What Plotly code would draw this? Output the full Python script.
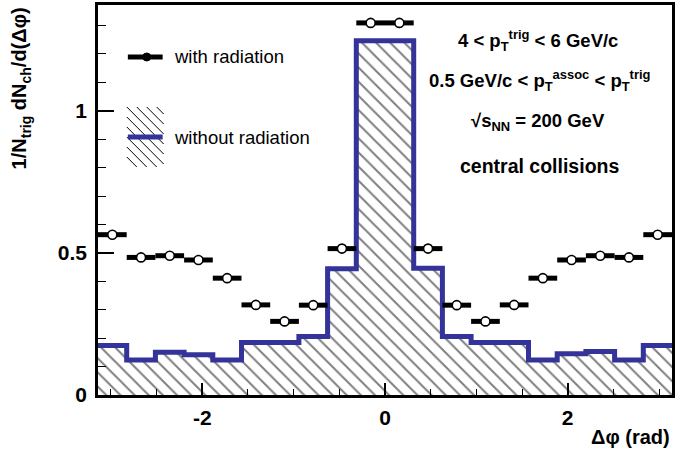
import numpy as np
import plotly.graph_objects as go

# ---------------- data ----------------
n_bins = 20
bin_edges = np.linspace(-np.pi, np.pi, n_bins + 1)
bin_centers = 0.5 * (bin_edges[:-1] + bin_edges[1:])
bin_half_width = (bin_edges[1] - bin_edges[0]) / 2

with_radiation = [0.564, 0.484, 0.490, 0.475, 0.411, 0.317, 0.259, 0.316, 0.515, 1.309,
                  1.309, 0.515, 0.316, 0.259, 0.317, 0.411, 0.475, 0.490, 0.484, 0.564]
without_radiation = [0.174, 0.123, 0.150, 0.142, 0.123, 0.185, 0.185, 0.206, 0.444, 1.246,
                     1.246, 0.446, 0.206, 0.185, 0.185, 0.123, 0.145, 0.153, 0.123, 0.174]

x_ticks = [-2, 0, 2]
y_ticks = [0, 0.5, 1]

FONT = "Liberation Sans, Arial, Helvetica, sans-serif"
BLUE = "#333399"

# figure geometry (pixels)
W, H = 676, 450
ML, MR, MT, MB = 98, 1, 5, 55
PW, PH = W - ML - MR, H - MT - MB


def px(xp):
    return (xp - ML) / PW


def py(yp):
    return (H - MB - yp) / PH


fig = go.Figure()

# histogram without radiation (step + hatched fill)
fig.add_trace(go.Scatter(
    x=list(bin_edges), y=list(without_radiation) + [without_radiation[-1]],
    mode="lines", line=dict(shape="hv", color=BLUE, width=5),
    fill="tozeroy", fillcolor="white",
    fillpattern=dict(shape="\\", fgcolor="black", bgcolor="white", size=10, solidity=0.2),
    showlegend=False, hoverinfo="skip",
))

# points with radiation
fig.add_trace(go.Scatter(
    x=bin_centers, y=with_radiation, mode="markers",
    marker=dict(symbol="circle", size=9, color="white", line=dict(color="black", width=1.6)),
    error_x=dict(type="constant", value=bin_half_width, color="black", thickness=5, width=0),
    showlegend=False,
))

shapes = []
# legend: with radiation
shapes.append(dict(type="line", xref="paper", yref="paper",
                   x0=px(128), x1=px(163), y0=py(57), y1=py(57),
                   line=dict(color="black", width=5)))
shapes.append(dict(type="circle", xref="paper", yref="paper",
                   x0=px(143), x1=px(151), y0=py(61), y1=py(53),
                   fillcolor="black", line=dict(color="black", width=1)))
# legend: without radiation hatch box
bx0, bx1, by0, by1 = 127, 164, 107, 167
for c in range(-60, 40, 10):
    ya, yb = by0, by1
    xa, xb = bx0 + c + (ya - by0), bx0 + c + (yb - by0)
    if xa < bx0:
        ya = ya + (bx0 - xa); xa = bx0
    if xb > bx1:
        yb = yb - (xb - bx1); xb = bx1
    if ya < yb:
        shapes.append(dict(type="line", xref="paper", yref="paper",
                           x0=px(xa), x1=px(xb), y0=py(ya), y1=py(yb),
                           line=dict(color="black", width=1)))
shapes.append(dict(type="line", xref="paper", yref="paper",
                   x0=px(128), x1=px(163), y0=py(137), y1=py(137),
                   line=dict(color=BLUE, width=5)))

annotations = [
    dict(text="with radiation", x=px(172), y=py(57), xanchor="left", yanchor="middle",
         font=dict(size=18.5, color="black", family=FONT)),
    dict(text="without radiation", x=px(172), y=py(137), xanchor="left", yanchor="middle",
         font=dict(size=18.5, color="black", family=FONT)),
    dict(text="<b>4 < p<sub>T</sub><sup>trig</sup> < 6 GeV/c</b>", x=px(540), y=py(40),
         xanchor="center", yanchor="middle", font=dict(size=18.5, color="black", family=FONT)),
    dict(text="<b>0.5 GeV/c < p<sub>T</sub><sup>assoc</sup> < p<sub>T</sub><sup>trig</sup></b>",
         x=px(542), y=py(80), xanchor="center", yanchor="middle",
         font=dict(size=18.5, color="black", family=FONT)),
    dict(text="<b>√s<sub>NN</sub> = 200 GeV</b>", x=px(540), y=py(122),
         xanchor="center", yanchor="middle", font=dict(size=18.5, color="black", family=FONT)),
    dict(text="<b>central collisions</b>", x=px(542), y=py(166),
         xanchor="center", yanchor="middle", font=dict(size=19.5, color="black", family=FONT)),
    dict(text="<b>1/N<sub>trig</sub> dN<sub>ch</sub>/d(Δφ)</b>", x=px(20), y=py(5),
         xanchor="center", yanchor="top", textangle=-90,
         font=dict(size=20, color="black", family=FONT)),
    dict(text="<b>Δφ (rad)</b>", x=1.0, y=py(437), xanchor="right", yanchor="middle",
         font=dict(size=20, color="black", family=FONT)),
]
for a in annotations:
    a.setdefault("xref", "paper")
    a.setdefault("yref", "paper")
    a["showarrow"] = False

fig.update_layout(
    width=W, height=H,
    margin=dict(l=ML, r=MR, t=MT, b=MB, pad=0),
    paper_bgcolor="white", plot_bgcolor="white",
    shapes=shapes, annotations=annotations,
    font=dict(family=FONT, color="black"),
    xaxis=dict(range=[-np.pi, np.pi], tickvals=x_ticks, ticktext=[str(v) for v in x_ticks],
               ticks="inside", ticklen=12, tickwidth=1.5, tickcolor="black",
               minor=dict(dtick=0.5, tick0=0, ticks="inside", ticklen=6, tickwidth=1.2, tickcolor="black"),
               showline=True, linecolor="black", linewidth=2.5, mirror=True,
               showgrid=False, zeroline=False,
               tickfont=dict(size=21, family=FONT, weight="bold"), ticklabelstandoff=2),
    yaxis=dict(range=[0, 1.372], tickvals=y_ticks, ticktext=["0", "0.5", "1"],
               ticks="inside", ticklen=16, tickwidth=1.5, tickcolor="black",
               minor=dict(dtick=0.1, tick0=0, ticks="inside", ticklen=8, tickwidth=1.2, tickcolor="black"),
               showline=True, linecolor="black", linewidth=2.5, mirror=True,
               showgrid=False, zeroline=False,
               tickfont=dict(size=21, family=FONT, weight="bold"), ticklabelstandoff=4),
)

fig.write_html("out.html")
